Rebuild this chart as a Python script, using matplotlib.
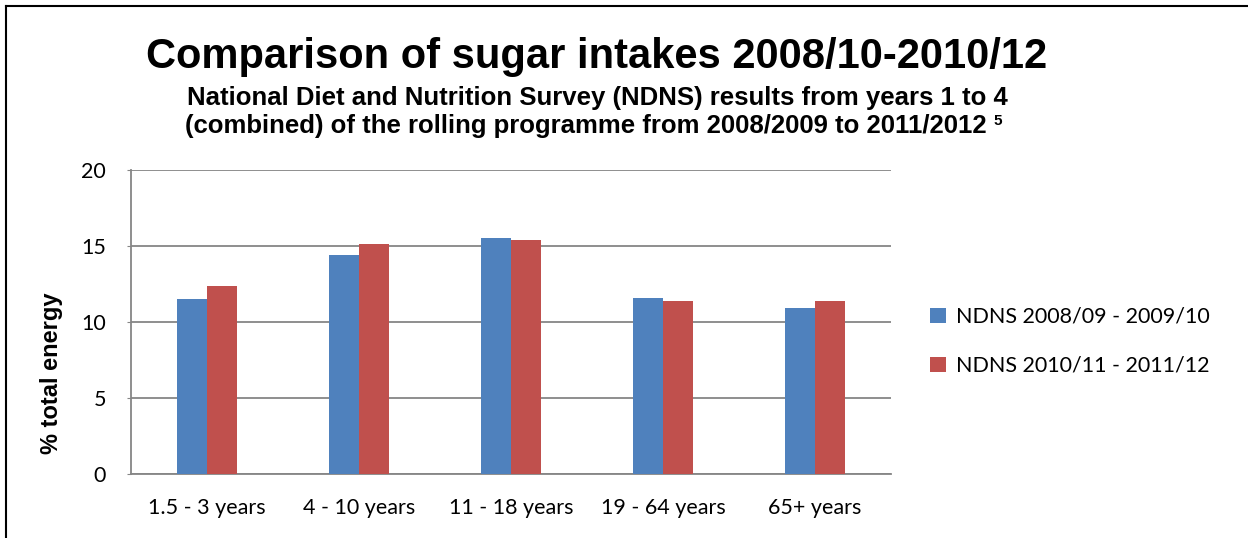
import matplotlib.pyplot as plt
import numpy as np
from matplotlib.lines import Line2D

categories = ['1.5 - 3 years', '4 - 10 years', '11 - 18 years', '19 - 64 years', '65+ years']
series_names = ['NDNS 2008/09 - 2009/10', 'NDNS 2010/11 - 2011/12']
values_0810 = [11.5, 14.4, 15.5, 11.6, 10.9]
values_1012 = [12.4, 15.1, 15.4, 11.4, 11.4]
colors = ['#4F81BD', '#C0504D']

fig = plt.figure(figsize=(12.48, 5.38), dpi=100)
ax = fig.add_axes([0.105, 0.119, 0.609, 0.565])

x = np.arange(len(categories))
w = 0.2
ax.bar(x - w / 2, values_0810, w, color=colors[0], label=series_names[0], zorder=3)
ax.bar(x + w / 2, values_1012, w, color=colors[1], label=series_names[1], zorder=3)

ax.set_xlim(-0.5, len(categories) - 0.5)
ax.set_ylim(0, 20)
ax.set_yticks([0, 5, 10, 15, 20])
ax.set_xticks(x)
ax.set_xticklabels(categories, fontname='Lato', fontsize=15.5)
for lbl in ax.get_yticklabels():
    lbl.set_fontname('Lato')
    lbl.set_fontsize(15.5)

ax.yaxis.grid(True, color='#868686', linewidth=1.3, zorder=0)
for s in ['top', 'right']:
    ax.spines[s].set_visible(False)
for s in ['left', 'bottom']:
    ax.spines[s].set_color('#868686')
    ax.spines[s].set_linewidth(1.3)
ax.tick_params(axis='x', length=0, pad=17)
ax.tick_params(axis='y', length=3, color='#868686', pad=15)

ax.set_ylabel('% total energy', fontname='Liberation Sans', fontweight='bold', fontsize=17)
ax.yaxis.set_label_coords(-0.09, 0.333)

ax.legend(loc='center left', bbox_to_anchor=(1.04, 0.436), frameon=False, borderaxespad=0,
          prop={'family': 'Lato', 'size': 15.5}, handlelength=0.75, handleheight=0.75,
          handletextpad=0.45, labelspacing=1.35)

fig.text(0.4784, 0.8736, 'Comparison of sugar intakes 2008/10-2010/12', ha='center', va='baseline',
         fontname='Liberation Sans', fontweight='bold', fontsize=30)
fig.text(0.4784, 0.8048, 'National Diet and Nutrition Survey (NDNS) results from years 1 to 4',
         ha='center', va='baseline', fontname='Liberation Sans', fontweight='bold', fontsize=18.5)
line2 = fig.text(0.4692, 0.7528, '(combined) of the rolling programme from 2008/2009 to 2011/2012',
                 ha='center', va='baseline', fontname='Liberation Sans', fontweight='bold', fontsize=18.5)

# footnote marker placed just after the second subtitle line
fig.canvas.draw()
bb = line2.get_window_extent().transformed(fig.transFigure.inverted())
fig.text(bb.x1 + 0.006, 0.7677, '5', ha='left', va='baseline',
         fontname='Liberation Sans', fontweight='bold', fontsize=11)

# outer frame (top and left edges visible)
fig.add_artist(Line2D([0.005, 1.0], [0.989, 0.989], transform=fig.transFigure, color='black', lw=1.5))
fig.add_artist(Line2D([0.005, 0.005], [0.0, 0.989], transform=fig.transFigure, color='black', lw=1.5))

fig.savefig('out.png', dpi=100)
